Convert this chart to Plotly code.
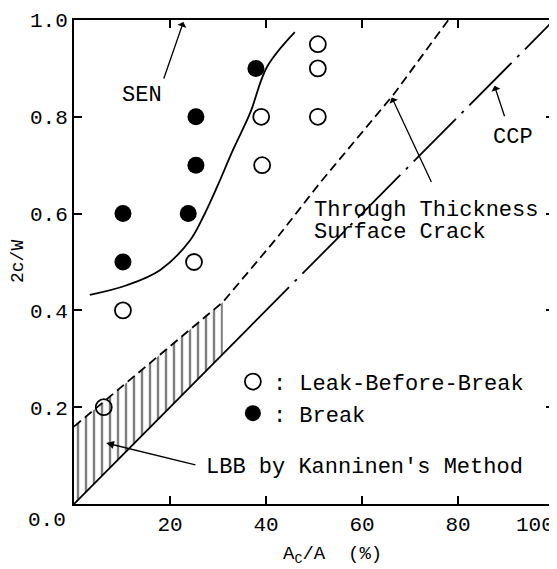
import plotly.graph_objects as go

# ---- data ----
break_x = [10.2, 10.2, 23.8, 25.4, 25.4, 37.9]
break_y = [0.5, 0.6, 0.6, 0.7, 0.8, 0.9]

lbb_x = [6.2, 10.2, 25, 39.2, 39, 50.8, 50.8, 50.8]
lbb_y = [0.2, 0.4, 0.5, 0.7, 0.8, 0.8, 0.9, 0.95]

sen_x = [3.3, 11.0, 17.9, 24.2, 26.9, 29.8, 33.1, 36.7, 40.2, 46.0]
sen_y = [0.432, 0.452, 0.483, 0.545, 0.593, 0.655, 0.731, 0.808, 0.903, 0.975]

ttsc_x = [0, 31, 42.3, 51.2, 66.5, 78]
ttsc_y = [0.16, 0.417, 0.55, 0.663, 0.845, 1.0]

ccp_x = [0, 36, 100]
ccp_y = [0, 0.36, 1.0]

hatch_x = [0, 0, 31, 31, 0]
hatch_y = [0, 0.16, 0.417, 0.31, 0]

x_ticks = [0, 20, 40, 60, 80, 100]
x_ticktext = ["", "20", "40", "60", "80", ""]
y_ticks = [0, 0.2, 0.4, 0.6, 0.8, 1.0]
y_ticktext = ["", "0.2", "0.4", "0.6", "0.8", "1.0"]

FONT = "Liberation Mono"
FS_TICK = 21
FS = 22

fig = go.Figure()

fig.add_trace(go.Scatter(
    x=hatch_x, y=hatch_y, mode="lines", fill="toself",
    line=dict(color="rgba(0,0,0,0)", width=0),
    fillcolor="white",
    fillpattern=dict(shape="|", size=8, solidity=0.3, fgcolor="black", bgcolor="white"),
    showlegend=False, hoverinfo="skip"))

fig.add_trace(go.Scatter(x=sen_x, y=sen_y, mode="lines",
                         line=dict(color="black", width=1.8, shape="spline"),
                         showlegend=False))

fig.add_trace(go.Scatter(x=ttsc_x, y=ttsc_y, mode="lines",
                         line=dict(color="black", width=1.8, dash="9px,5px"),
                         showlegend=False))

fig.add_trace(go.Scatter(x=ccp_x[:2], y=ccp_y[:2], mode="lines",
                         line=dict(color="black", width=1.8),
                         showlegend=False))
fig.add_trace(go.Scatter(x=ccp_x[1:], y=ccp_y[1:], mode="lines",
                         line=dict(color="black", width=1.8, dash="60px,8px,3px,8px"),
                         showlegend=False))

fig.add_trace(go.Scatter(x=lbb_x, y=lbb_y, mode="markers", name=": Leak-Before-Break",
                         marker=dict(symbol="circle-open", size=16, color="black",
                                     line=dict(width=1.8, color="black"))))
fig.add_trace(go.Scatter(x=break_x, y=break_y, mode="markers", name=": Break",
                         marker=dict(symbol="circle", size=17, color="black")))

axis_common = dict(showline=True, linewidth=2, linecolor="black", mirror="ticks",
                   ticks="inside", ticklen=8, tickwidth=1.5, tickcolor="black",
                   showgrid=False, zeroline=False, automargin=False,
                   ticklabeloverflow="allow",
                   tickfont=dict(family=FONT, size=FS_TICK, color="black"))

fig.update_xaxes(range=[0, 100], tickvals=x_ticks, ticktext=x_ticktext, **axis_common)
fig.update_yaxes(range=[0, 1.0], tickvals=y_ticks, ticktext=y_ticktext, **axis_common)

ann = []
def text(x, y, s, xanchor="center", yanchor="middle", size=FS, **kw):
    d = dict(x=x, y=y, xref="x", yref="y", text=s, showarrow=False,
             xanchor=xanchor, yanchor=yanchor,
             font=dict(family=FONT, size=size, color="black"))
    d.update(kw)
    ann.append(d)

def arrow(x, y, ax, ay, head=1):
    ann.append(dict(x=x, y=y, ax=ax, ay=ay, xref="x", yref="y", axref="x", ayref="y",
                    text="", showarrow=True, arrowhead=head, arrowsize=1.2,
                    arrowwidth=1.3, arrowcolor="black"))

text(14.2, 0.845, "SEN")
arrow(22.8, 0.996, 18.6, 0.876)

text(49.6, 0.607, "Through Thickness", xanchor="left")
text(49.6, 0.56, "Surface Crack", xanchor="left")
arrow(66.2, 0.84, 74.6, 0.662)

text(91.5, 0.758, "CCP")
arrow(87.6, 0.864, 89.8, 0.798)

text(27.0, 0.076, "LBB by Kanninen's Method", xanchor="left")
arrow(6.7, 0.126, 25.6, 0.08, head=2)

# origin label and last x label (set beside their ticks, as in the reference)
text(0, 0, "0.0", xanchor="right", yanchor="top", size=FS_TICK, xshift=-6, yshift=-3)
text(100, 0, "100", xanchor="right", yanchor="top", size=FS_TICK, xshift=2, yshift=-8)

# axis titles
ann.append(dict(x=0, y=0.5, xref="paper", yref="y", text="2c/W", showarrow=False,
                textangle=-90, xanchor="center", yanchor="middle", xshift=-56,
                font=dict(family=FONT, size=18, color="black")))
ann.append(dict(x=53.8, y=0, xref="x", yref="paper", text="A<sub>C</sub>/A  (%)",
                showarrow=False, xanchor="center", yanchor="top", yshift=-37,
                font=dict(family=FONT, size=19, color="black")))

# the page body adds an 8px offset; size/margins compensate so the plot area
# lands at x 74..554, y 20..504 in the window
fig.update_layout(
    width=549, height=561,
    margin=dict(l=66, r=3, t=12, b=65),
    paper_bgcolor="white", plot_bgcolor="white",
    annotations=ann,
    legend=dict(x=0.331, y=0.296, xanchor="left", yanchor="top",
                font=dict(family=FONT, size=FS, color="black"),
                bgcolor="rgba(0,0,0,0)", tracegroupgap=6),
    font=dict(family=FONT, color="black"),
)

fig.write_html("out.html")
